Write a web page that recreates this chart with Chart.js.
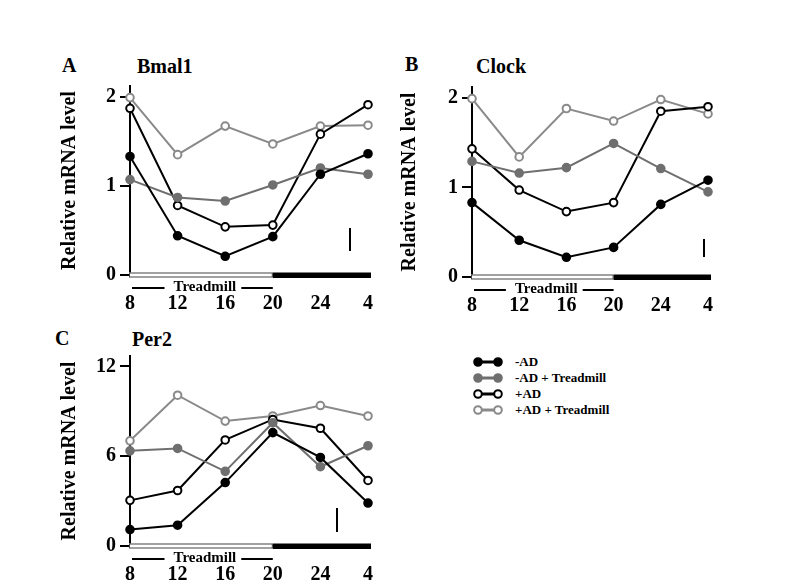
<!DOCTYPE html>
<html>
<head>
<meta charset="utf-8">
<script src="https://cdn.jsdelivr.net/npm/chart.js@4.4.1/dist/chart.umd.min.js"></script>
<style>
  body { margin: 0; background: #fff; width: 796px; height: 584px; position: relative; overflow: hidden;
         font-family: "Liberation Serif", serif; font-weight: bold; color: #000; }
  .box { position: absolute; }
  .txt { position: absolute; line-height: 1; white-space: nowrap; font-size: 20px; }
  .legend { position: absolute; left: 470px; top: 354px; font-size: 13px; }
  .legend div { height: 16px; display: flex; align-items: center; }
  .legend svg { margin-right: 12px; }
</style>
</head>
<body>
<div class="txt" style="left:62px;top:55px">A</div>
<div class="txt" style="left:137px;top:56px">Bmal1</div>
<div class="txt" style="left:405px;top:54px">B</div>
<div class="txt" style="left:476px;top:56px">Clock</div>
<div class="txt" style="left:55px;top:328px">C</div>
<div class="txt" style="left:132px;top:329px">Per2</div>

<div class="box" style="left:50px;top:70px;width:340px;height:250px"><canvas id="chartA"></canvas></div>
<div class="box" style="left:390px;top:70px;width:340px;height:250px"><canvas id="chartB"></canvas></div>
<div class="box" style="left:50px;top:340px;width:340px;height:244px"><canvas id="chartC"></canvas></div>
<div class="legend" id="legend"></div>

<script>
// time of day (h)
const hours = ["8", "12", "16", "20", "24", "4"];
const seriesNames = ["-AD", "-AD + Treadmill", "+AD", "+AD + Treadmill"];

// Bmal1
const bmal1NoAD      = [1.33, 0.44, 0.21, 0.43, 1.13, 1.36];
const bmal1NoADTread = [1.07, 0.87, 0.83, 1.01, 1.20, 1.13];
const bmal1AD        = [1.87, 0.78, 0.54, 0.56, 1.58, 1.91];
const bmal1ADTread   = [1.99, 1.35, 1.67, 1.47, 1.67, 1.68];

// Clock
const clockNoAD      = [0.83, 0.41, 0.22, 0.33, 0.81, 1.08];
const clockNoADTread = [1.29, 1.16, 1.22, 1.49, 1.21, 0.95];
const clockAD        = [1.43, 0.97, 0.73, 0.83, 1.85, 1.90];
const clockADTread   = [1.99, 1.34, 1.88, 1.74, 1.98, 1.82];

// Per2
const per2NoAD      = [1.10, 1.39, 4.24, 7.58, 5.92, 2.87];
const per2NoADTread = [6.36, 6.52, 4.99, 8.24, 5.30, 6.70];
const per2AD        = [3.05, 3.71, 7.09, 8.46, 7.87, 4.38];
const per2ADTread   = [7.03, 10.08, 8.35, 8.69, 9.39, 8.69];

// y tick labels
const smallTicks = [0, 1, 2];
const per2Ticks = [0, 6, 12];

// line colour / marker fill per series
const lineColors = ["#000000", "#6f6f6f", "#000000", "#8a8a8a"];
const markerFills = ["#000000", "#6f6f6f", "#ffffff", "#ffffff"];

const FONT = "'Liberation Serif', serif";

// light/dark bar under the x axis, "Treadmill" note and the small scale bar
const decorPlugin = {
  id: "decor",
  afterDraw(chart, args, opts) {
    const ctx = chart.ctx;
    const area = chart.chartArea;
    const x = chart.scales.x;
    const left = x.getPixelForValue(0) - 1;
    const split = x.getPixelForValue(3);
    const y = area.bottom;

    ctx.save();
    ctx.fillStyle = "#fff";
    ctx.strokeStyle = "#444";
    ctx.lineWidth = 1;
    ctx.fillRect(left, y - 2.5, split - left, 5);
    ctx.strokeRect(left + 0.5, y - 2, split - left - 1, 4);
    ctx.fillStyle = "#000";
    ctx.fillRect(split, y - 2.5, area.right + 3 - split, 5.5);

    // Treadmill label
    ctx.font = "bold 15px " + FONT;
    ctx.textAlign = "center";
    ctx.textBaseline = "middle";
    const mid = (left + split) / 2 + 4;
    const ty = y + opts.noteDy;
    ctx.fillText("Treadmill", mid, ty);
    const w = ctx.measureText("Treadmill").width;
    ctx.lineWidth = 2;
    ctx.strokeStyle = "#000";
    ctx.beginPath();
    ctx.moveTo(left + 3, ty + 1);
    ctx.lineTo(mid - w / 2 - 9, ty + 1);
    ctx.moveTo(mid + w / 2 + 5, ty + 1);
    ctx.lineTo(split, ty + 1);
    ctx.stroke();

    // small vertical scale bar
    ctx.beginPath();
    ctx.moveTo(area.right - opts.barDx, y - opts.barTop);
    ctx.lineTo(area.right - opts.barDx, y - opts.barTop + opts.barLen);
    ctx.stroke();
    ctx.restore();
  }
};

function makeChart(id, seriesList, ticks, yMax, box, decor) {
  const datasets = seriesList.map((vals, i) => ({
    label: seriesNames[i],
    data: vals,
    borderColor: lineColors[i],
    backgroundColor: markerFills[i],
    pointBackgroundColor: markerFills[i],
    pointBorderColor: lineColors[i],
    borderWidth: 2,
    pointBorderWidth: 2,
    pointRadius: 3.8,
    tension: 0,
    clip: false
  }));

  new Chart(document.getElementById(id), {
    type: "line",
    data: { labels: hours, datasets: datasets },
    options: {
      responsive: true,
      maintainAspectRatio: false,
      animation: false,
      layout: { padding: { top: box.top, right: box.right, left: 0, bottom: 0 } },
      plugins: {
        legend: { display: false },
        tooltip: { enabled: false },
        decor: decor
      },
      scales: {
        x: {
          offset: false,
          grid: { display: false, drawTicks: false },
          border: { display: false },
          ticks: { color: "#000", padding: 17, maxRotation: 0, autoSkip: false,
                   font: { family: FONT, size: 20, weight: "bold" } },
          afterFit(s) { s.height = box.xh; }
        },
        y: {
          min: 0,
          max: yMax,
          afterBuildTicks(s) { s.ticks = ticks.map(v => ({ value: v })); },
          grid: { drawOnChartArea: false, drawTicks: true, tickLength: 10, color: "#000", lineWidth: 2 },
          border: { display: true, color: "#000", width: 2 },
          ticks: { color: "#000", padding: 4,
                   font: { family: FONT, size: 20, weight: "bold" } },
          title: { display: true, text: "Relative mRNA level", color: "#000",
                   padding: { top: 8, bottom: 0 },
                   font: { family: FONT, size: 20, weight: "bold" } },
          afterFit(s) { s.width = box.yw; }
        }
      }
    },
    plugins: [decorPlugin]
  });
}

makeChart("chartA", [bmal1NoAD, bmal1NoADTread, bmal1AD, bmal1ADTread], smallTicks, 2.12,
  { top: 16, right: 20, xh: 45, yw: 80 },
  { noteDy: 12, barDx: 18, barTop: 47, barLen: 23 });

makeChart("chartB", [clockNoAD, clockNoADTread, clockAD, clockADTread], smallTicks, 2.12,
  { top: 17, right: 19, xh: 43, yw: 82 },
  { noteDy: 12, barDx: 4, barTop: 38, barLen: 18 });

makeChart("chartC", [per2NoAD, per2NoADTread, per2AD, per2ADTread], per2Ticks, 12.7,
  { top: 14, right: 20, xh: 38, yw: 80 },
  { noteDy: 12, barDx: 31, barTop: 38, barLen: 24 });

// legend
const legend = document.getElementById("legend");
seriesNames.forEach((name, i) => {
  const row = document.createElement("div");
  row.innerHTML = `
    <svg width="33" height="12">
      <line x1="8" y1="6" x2="28" y2="6" stroke="${lineColors[i]}" stroke-width="3"/>
      <circle cx="8" cy="6" r="3.8" fill="${markerFills[i]}" stroke="${lineColors[i]}" stroke-width="2"/>
      <circle cx="28" cy="6" r="3.8" fill="${markerFills[i]}" stroke="${lineColors[i]}" stroke-width="2"/>
    </svg><span>${name}</span>`;
  legend.appendChild(row);
});
</script>
</body>
</html>
